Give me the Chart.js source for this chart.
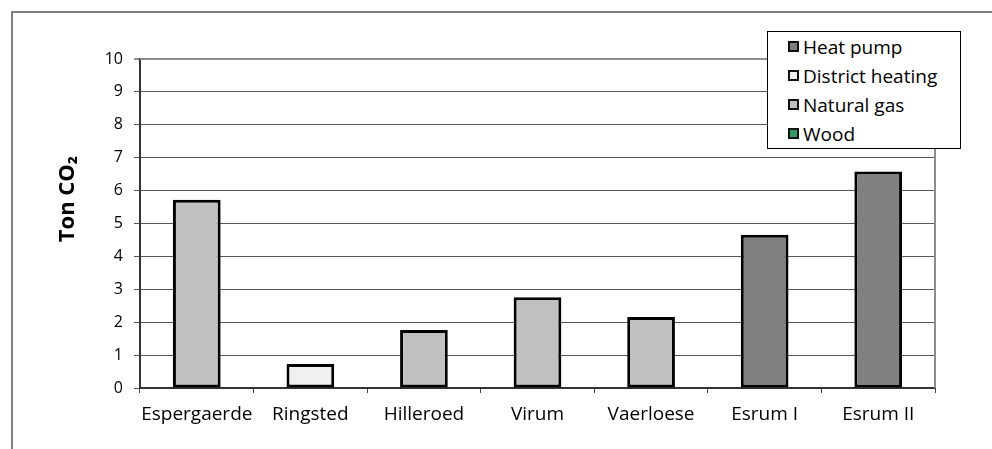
<!DOCTYPE html>
<html>
<head>
<meta charset="utf-8">
<script src="https://cdn.jsdelivr.net/npm/chart.js@4"></script>
<style>
    html, body { margin: 0; padding: 0; background: #fff; overflow: hidden; }
    #wrap { position: relative; width: 992px; height: 449px; }
    #frame {
        position: absolute; left: 11px; top: 11px; width: 1000px; height: 460px;
        border-top: 2px solid #7f7f7f; border-left: 2px solid #7f7f7f;
    }
    #legend {
        position: absolute; left: 767px; top: 31px; width: 192px; height: 116px;
        border: 1px solid #000; background: #fff;
        font-family: 'Open Sans', sans-serif; font-size: 19px; color: #000;
    }
    #legend .item { height: 29px; display: flex; align-items: center; padding-left: 20px; }
    #legend .box { width: 7px; height: 7px; border: 2px solid #111; margin-right: 4px; }
</style>
</head>
<body>
<div id="wrap">
    <div id="frame"></div>
    <canvas id="co2Chart" width="992" height="449"></canvas>
    <div id="legend"></div>
</div>
<script>
// --------------------------------------------
// dados
// --------------------------------------------
const sites = ['Espergaerde', 'Ringsted', 'Hilleroed', 'Virum', 'Vaerloese', 'Esrum I', 'Esrum II'];
const co2Values = [5.72, 0.73, 1.76, 2.76, 2.16, 4.66, 6.58];
const heatingType = ['Natural gas', 'District heating', 'Natural gas', 'Natural gas', 'Natural gas', 'Heat pump', 'Heat pump'];
const legendLabels = ['Heat pump', 'District heating', 'Natural gas', 'Wood'];
const legendColors = ['#808080', '#F0F0F0', '#C0C0C0', '#339966'];
const yTicks = [0, 1, 2, 3, 4, 5, 6, 7, 8, 9, 10];

const colorOf = type => legendColors[legendLabels.indexOf(type)];

// legenda em HTML (fica por cima da área do gráfico)
const legendEl = document.getElementById('legend');
legendLabels.forEach((label, i) => {
    const item = document.createElement('div');
    item.className = 'item';
    const box = document.createElement('span');
    box.className = 'box';
    box.style.background = legendColors[i];
    const txt = document.createElement('span');
    txt.textContent = label;
    item.appendChild(box);
    item.appendChild(txt);
    legendEl.appendChild(item);
});

// moldura cinza em cima e à direita + título do eixo y
const extrasPlugin = {
    id: 'extras',
    afterDraw(chart) {
        const { ctx, chartArea: a } = chart;
        ctx.save();
        ctx.strokeStyle = '#8c8c8c';
        ctx.lineWidth = 2;
        ctx.beginPath();
        ctx.moveTo(a.left, a.top);
        ctx.lineTo(a.right, a.top);
        ctx.lineTo(a.right, a.bottom);
        ctx.stroke();

        ctx.translate(68, 199);
        ctx.rotate(-Math.PI / 2);
        ctx.fillStyle = '#000';
        ctx.font = "bold 22px 'Open Sans', sans-serif";
        ctx.textAlign = 'center';
        ctx.textBaseline = 'middle';
        ctx.fillText('Ton CO\u2082', 0, 0);
        ctx.restore();
    }
};

new Chart(document.getElementById('co2Chart'), {
    type: 'bar',
    data: {
        labels: sites,
        datasets: [{
            data: co2Values,
            backgroundColor: heatingType.map(colorOf),
            borderColor: '#000',
            borderWidth: 3,
            borderSkipped: false,
            barPercentage: 0.42,
            categoryPercentage: 1
        }]
    },
    options: {
        responsive: false,
        animation: false,
        layout: { padding: { left: 0, right: 57, top: 59, bottom: 0 } },
        plugins: {
            legend: { display: false },
            tooltip: { enabled: false }
        },
        scales: {
            x: {
                offset: true,
                afterFit: s => { s.height = 61; },
                grid: {
                    offset: true,
                    drawOnChartArea: false,
                    drawTicks: true,
                    tickLength: 5,
                    color: '#444'
                },
                border: { color: '#333', width: 2 },
                ticks: {
                    color: '#000',
                    padding: 10,
                    autoSkip: false,
                    maxRotation: 0,
                    minRotation: 0,
                    font: { family: "'Open Sans', sans-serif", size: 19 }
                }
            },
            y: {
                min: 0,
                max: 10,
                afterFit: s => { s.width = 140; },
                afterBuildTicks: s => { s.ticks = yTicks.map(v => ({ value: v })); },
                grid: {
                    color: ctx => (ctx.tick && ctx.tick.value === 10 ? '#8c8c8c' : '#555'),
                    lineWidth: ctx => (ctx.tick && ctx.tick.value === 10 ? 2 : 1),
                    tickLength: 6
                },
                border: { color: '#333', width: 2 },
                ticks: {
                    color: '#000',
                    padding: 11,
                    font: { family: "'Open Sans', sans-serif", size: 16 }
                }
            }
        }
    },
    plugins: [extrasPlugin]
});
</script>
</body>
</html>
